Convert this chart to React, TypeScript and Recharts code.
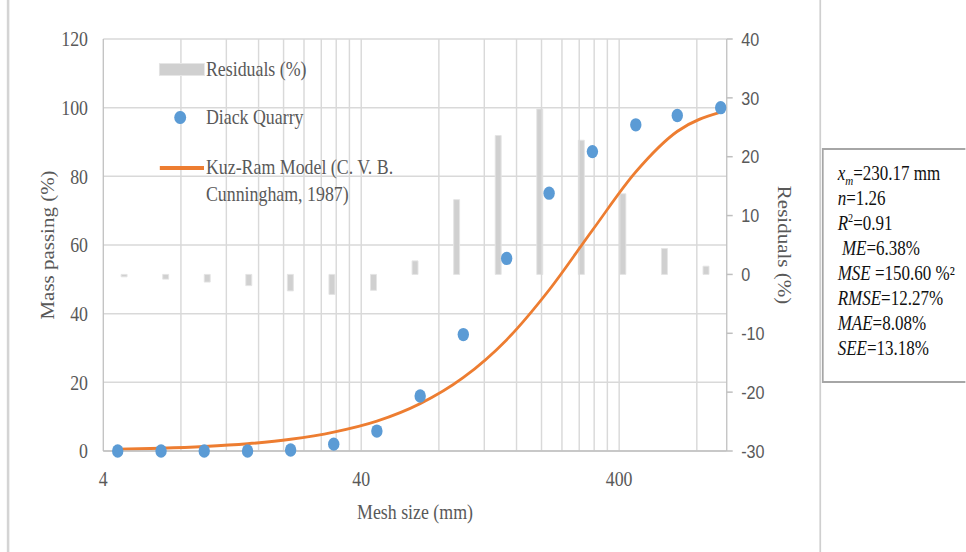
import React from "react";
import {
  ComposedChart,
  Bar,
  Line,
  Scatter,
  XAxis,
  YAxis,
  CartesianGrid,
  ReferenceLine,
  Legend,
} from "recharts";

// the reference picture is squeezed sideways, so the whole chart is drawn wider and scaled back
const SX = 0.85;
const u = (px: number) => px / SX;

const SERIF = '"Liberation Serif", "Times New Roman", serif';
const SANS = '"Liberation Sans", Arial, sans-serif';
const GREY_TEXT = "#595959";
const GRID = "#d9d9d9";
const AXIS = "#bfbfbf";

// mesh sizes (mm)
const meshSize = [4.55, 6.7, 9.85, 14.5, 21.3, 31.3, 46, 67.7, 99.5, 146.5, 214, 315, 464, 672, 990];
// Diack Quarry, mass passing (%)
const massPassing = [0, 0, 0, 0, 0.3, 2.0, 5.8, 16.0, 33.9, 56.1, 75.1, 87.2, 95.0, 97.7, 100];
// Kuz-Ram model, mass passing (%)
const kuzRam = [0.5, 0.8, 1.3, 2.1, 3.4, 5.5, 8.7, 13.8, 21.4, 32.4, 46.9, 64.3, 81.3, 93.1, 98.7];
// residuals (%), right axis
const residuals = [-0.4, -0.8, -1.3, -1.9, -2.8, -3.4, -2.7, 2.3, 12.7, 23.6, 28.1, 22.8, 13.7, 4.4, 1.4];

const xTicks = [4, 40, 400];
const minorGrid = [8, 12, 16, 20, 24, 28, 32, 36, 40, 80, 120, 160, 200, 240, 280, 320, 360, 400, 800];
const leftTicks = [0, 20, 40, 60, 80, 100, 120];
const rightTicks = [-30, -20, -10, 0, 10, 20, 30, 40];

const statsLines = [
  ["x", "m", "=230.17 mm"],
  ["n", "", "=1.26"],
  ["R", "2", "=0.91"],
  [" ME", "", "=6.38%"],
  ["MSE", "", " =150.60 %²"],
  ["RMSE", "", "=12.27%"],
  ["MAE", "", "=8.08%"],
  ["SEE", "", "=13.18%"],
];

const rows = meshSize.map((m, i) => ({
  mesh: m,
  passing: massPassing[i],
  model: kuzRam[i],
  residual: residuals[i],
}));

const NAMES = ["Residuals (%)", "Diack Quarry", "Kuz-Ram Model (C. V. B. Cunningham, 1987)"];

function Dot(props: any) {
  const { cx, cy, fill } = props;
  if (cx == null || cy == null) return null;
  return <circle cx={cx} cy={cy} r={6.7} fill={fill} />;
}

function LegendBox(props: any) {
  const payload = props.payload || [];
  const colorOf = (name: string, fallback: string) => {
    const p = payload.find((it: any) => it.value === name);
    return p && p.color ? p.color : fallback;
  };
  const text: React.CSSProperties = {
    position: "absolute",
    left: 54,
    width: 240,
    fontFamily: SERIF,
    fontSize: 21,
    lineHeight: "27px",
    color: GREY_TEXT,
    whiteSpace: "normal",
  };
  return (
    <div style={{ position: "relative", width: 420, height: 160 }}>
      <div style={{ position: "absolute", left: 0, top: 9, width: 52, height: 11, background: "#d0d0d0", boxShadow: "0 0 0 1px #e6e6e6" }} />
      <div style={{ ...text, top: 1 }}>{NAMES[0]}</div>
      <div style={{ position: "absolute", left: 17, top: 56, width: 13.4, height: 13.4, borderRadius: "50%", background: colorOf(NAMES[1], "#5b9bd5") }} />
      <div style={{ ...text, top: 49 }}>{NAMES[1]}</div>
      <div style={{ position: "absolute", left: 0, top: 111, width: 52, height: 3.5, background: colorOf(NAMES[2], "#ed7d31") }} />
      <div style={{ ...text, top: 99 }}>{NAMES[2]}</div>
    </div>
  );
}

export default function App() {
  const W = u(966);
  return (
    <div
      style={{
        position: "absolute",
        left: 0,
        top: 0,
        width: W,
        height: 552,
        overflow: "hidden",
        background: "#fff",
        transform: `scaleX(${SX})`,
        transformOrigin: "0 0",
      }}
    >
      <ComposedChart
        width={965}
        height={552}
        data={rows}
        margin={{ top: 39, right: 40, bottom: 26, left: 51.5 }}
      >
        <CartesianGrid xAxisId="log" yAxisId="left" stroke={GRID} strokeWidth={1.5} vertical={false} />
        <XAxis
          xAxisId="log"
          dataKey="mesh"
          type="number"
          scale="log"
          domain={[4, 1045]}
          allowDataOverflow
          ticks={xTicks}
          height={75}
          tickLine={false}
          tickSize={6}
          tickMargin={14}
          axisLine={{ stroke: AXIS, strokeWidth: 1.5 }}
          tick={{ fill: GREY_TEXT, fontSize: 21, fontFamily: SERIF }}
          label={{
            value: "Mesh size (mm)",
            position: "insideBottom",
            offset: 7,
            style: { fill: GREY_TEXT, fontSize: 21, fontFamily: SERIF },
          }}
        />
        <XAxis xAxisId="cat" dataKey="mesh" type="category" height={0} hide />
        <YAxis
          yAxisId="left"
          domain={[0, 120]}
          ticks={leftTicks}
          width={70}
          tickLine={false}
          tickSize={6}
          tickMargin={12}
          axisLine={{ stroke: AXIS, strokeWidth: 1.5 }}
          tick={{ fill: GREY_TEXT, fontSize: 21, fontFamily: SERIF }}
          label={{
            value: "Mass passing (%)",
            angle: -90,
            position: "insideLeft",
            offset: 4,
            style: { textAnchor: "middle", fill: GREY_TEXT, fontSize: 21, fontFamily: SERIF },
          }}
        />
        <YAxis
          yAxisId="right"
          orientation="right"
          domain={[-30, 40]}
          ticks={rightTicks}
          width={70}
          tickSize={7}
          tickMargin={10}
          tickLine={{ stroke: AXIS, strokeWidth: 1.5 }}
          axisLine={{ stroke: AXIS, strokeWidth: 1.5 }}
          tick={{ fill: GREY_TEXT, fontSize: 19, fontFamily: SANS }}
          label={{
            value: "Residuals (%)",
            angle: 90,
            position: "insideRight",
            offset: 2,
            style: { textAnchor: "middle", fill: GREY_TEXT, fontSize: 21, fontFamily: SERIF },
          }}
        />
        {minorGrid.map((v) => (
          <ReferenceLine
            key={v}
            xAxisId="log"
            yAxisId="left"
            x={v}
            stroke={GRID}
            strokeWidth={1.7}
          />
        ))}
        <Bar
          xAxisId="cat"
          yAxisId="right"
          dataKey="residual"
          name={NAMES[0]}
          barSize={7}
          fill="#d0d0d0"
          stroke="#e4e4e4"
          strokeWidth={1}
          isAnimationActive={false}
        />
        <Line
          xAxisId="log"
          yAxisId="left"
          type="monotone"
          dataKey="model"
          name={NAMES[2]}
          stroke="#ed7d31"
          strokeWidth={3}
          dot={false}
          activeDot={false}
          isAnimationActive={false}
        />
        <Scatter
          xAxisId="log"
          yAxisId="left"
          data={rows}
          dataKey="passing"
          name={NAMES[1]}
          fill="#5b9bd5"
          shape={<Dot />}
          isAnimationActive={false}
        />
        <Legend
          layout="horizontal"
          verticalAlign="middle"
          align="center"
          wrapperStyle={{ top: 55, left: u(160), width: 420, height: 160 }}
          content={<LegendBox />}
        />
      </ComposedChart>

      {/* chart area frame */}
      <div style={{ position: "absolute", left: u(8) - 1, top: 0, width: 2.4, height: 552, background: "#d4d4d4" }} />
      <div style={{ position: "absolute", left: u(820) - 1.2, top: 0, width: 2.4, height: 552, background: "#cfcfcf" }} />

      {/* fit statistics */}
      <div
        style={{
          position: "absolute",
          left: u(822),
          top: 148,
          width: W - u(822),
          height: 235,
          boxSizing: "border-box",
          border: "2px solid #a6a6a6",
          borderRight: "none",
          background: "#fff",
          padding: `10.5px 0 0 ${u(14)}px`,
          fontFamily: SERIF,
          fontSize: 20,
          lineHeight: "25px",
          color: "#111",
          whiteSpace: "pre",
        }}
      >
        {statsLines.map(([name, sub, rest], i) => (
          <div key={i}>
            <i>{name}</i>
            {sub === "m" ? (
              <sub style={{ fontSize: 13, lineHeight: 0 }}>
                <i>{sub}</i>
              </sub>
            ) : sub ? (
              <sup style={{ fontSize: 12, lineHeight: 0 }}>{sub}</sup>
            ) : null}
            {rest}
          </div>
        ))}
      </div>
    </div>
  );
}
